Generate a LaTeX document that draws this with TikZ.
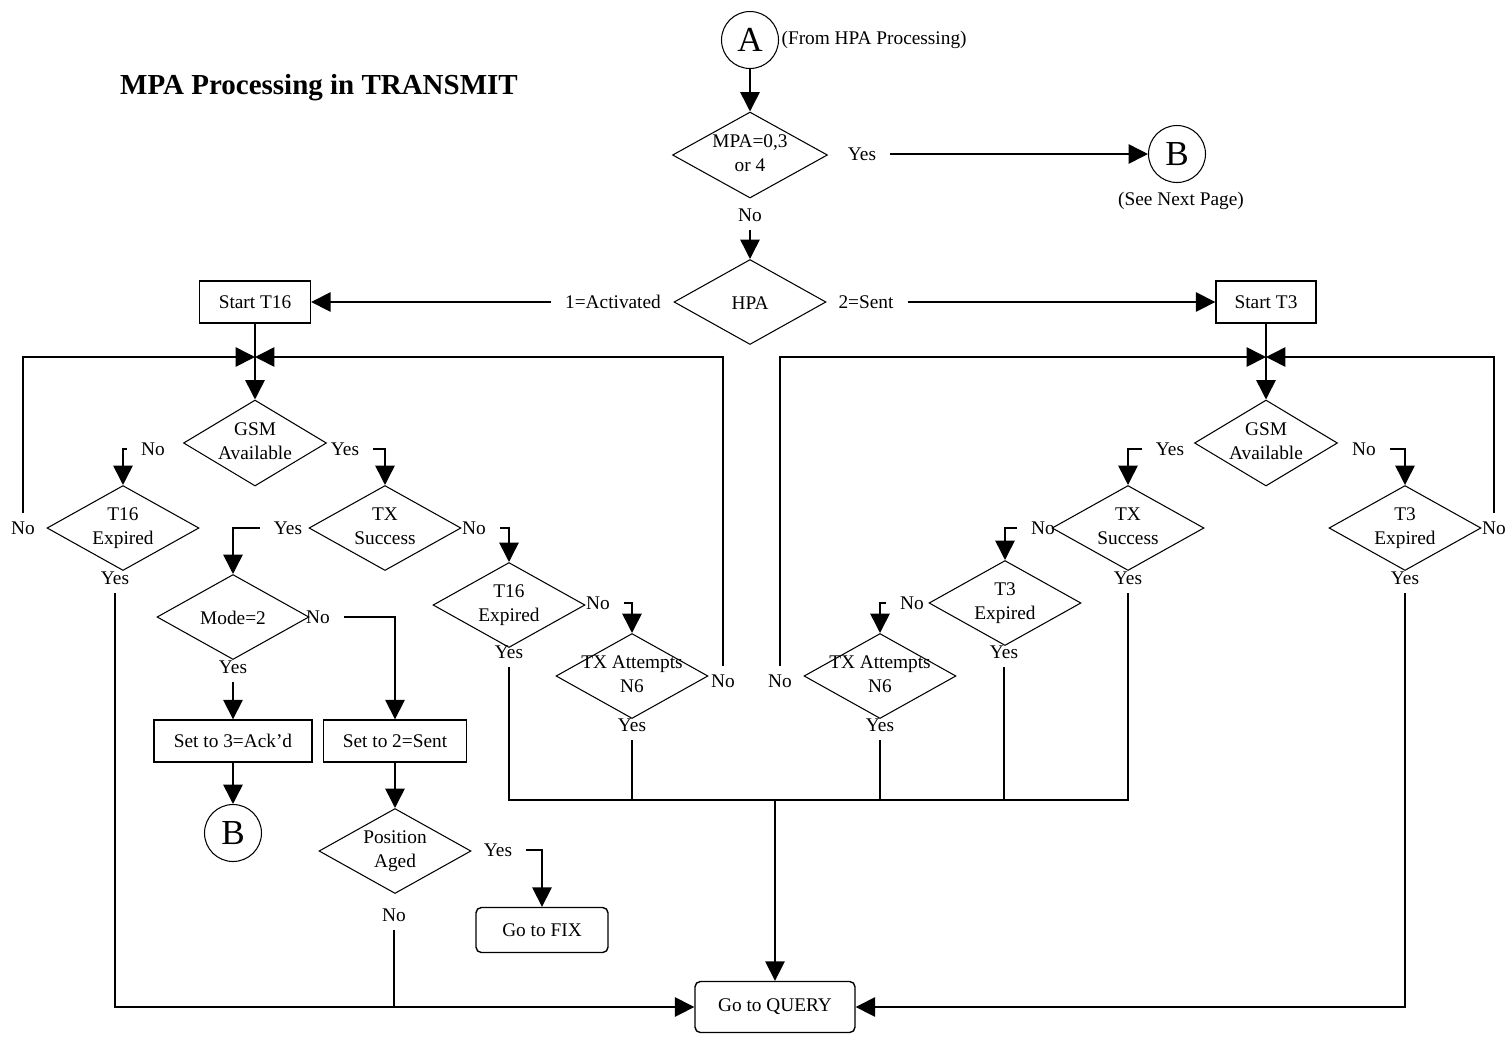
\documentclass[tikz,border=0pt]{standalone}
\usepackage{fontspec}
\setmainfont{Liberation Serif}
\usetikzlibrary{shapes.geometric,arrows.meta}

% diamond text that does not widen the diamond
\newcommand{\dq}[1]{\makebox[0pt]{\smash{\lower0.25em\hbox{\begin{tabular}{@{}c@{}}#1\end{tabular}}}}}

\begin{document}
\begin{tikzpicture}[x=0.02cm,y=-0.02cm,line width=0.9pt,
    every node/.style={font=\fontsize{11}{13.5}\selectfont},
    dec/.style={diamond,draw,line width=0.6pt,minimum width=3.04cm,minimum height=1.7cm,inner sep=0pt},
    gsm/.style={dec,minimum width=2.86cm,minimum height=1.72cm},
    proc/.style={rectangle,draw,line width=0.8pt,minimum height=0.84cm,inner sep=2pt},
    term/.style={proc,rounded corners=3pt,minimum width=2.64cm,minimum height=0.9cm},
    conn/.style={circle,draw,line width=0.6pt,minimum size=1.14cm,inner sep=0pt,font=\fontsize{20}{22}\selectfont},
    lbl/.style={inner sep=0pt,outer xsep=8pt,outer ysep=5pt},
    arr/.style={-{Triangle[length=11pt,width=11pt]}}]
    \path[fill=white,use as bounding box] (0,0) rectangle (1505,1036);

    \node[font=\bfseries\fontsize{16.5}{19}\selectfont] (title) at (319,88) {MPA Processing in TRANSMIT};

    \node[conn] (A) at (750,40) {A};
    \node[anchor=west,inner sep=1pt,font=\fontsize{11}{13}\selectfont] (from) at (A.east) {(From HPA Processing)};
    \node[dec,minimum width=3.1cm,minimum height=1.72cm] (mpa) at (750,155) {\dq{MPA=0,3\\or 4}};
    \node[lbl] (mpay) at (862,154) {Yes};
    \node[lbl] (mpan) at (750,215) {No};
    \node[conn] (B) at (1177,154) {B};
    \node[font=\fontsize{11}{13}\selectfont] (next) at (1181,201) {(See Next Page)};

    \node[dec] (hpa) at (750,302) {\dq{\raisebox{-1.7pt}{HPA}}};
    \node[lbl] (hact) at (613,302) {1=Activated};
    \node[lbl] (hsent) at (866,302) {2=Sent};
    \node[proc,minimum width=2.22cm] (t16) at (255,302) {Start T16};
    \node[proc,minimum width=2.0cm] (t3) at (1266,302) {Start T3};

    \coordinate (jl) at (255,357);
    \coordinate (jr) at (1266,357);
    \coordinate (bus) at (775,800);

    \draw[arr] (A) -- (mpa);
    \draw[arr] (mpay.east) -- (B);
    \draw[arr] (mpan.south) -- (hpa);
    \draw[arr] (hact.west) -- (t16);
    \draw[arr] (hsent.east) -- (t3);

    % T16 side
    \node[gsm] (gsml) at (255,443) {\dq{GSM\\Available}};
    \node[lbl] (gsmln) at (153,449) {No};
    \node[lbl] (gsmly) at (345,449) {Yes};
    \node[dec] (expl) at (123,528) {\dq{T16\\Expired}};
    \node[lbl] (explno) at (23,528) {No};
    \node[lbl] (explyes) at (115,578) {Yes};
    \node[dec] (txsl) at (385,528) {\dq{TX\\Success}};
    \node[lbl] (txslyes) at (288,528) {Yes};
    \node[lbl] (txslno) at (474,528) {No};
    \node[dec] (expm) at (509,605) {\dq{T16\\Expired}};
    \node[lbl] (expmno) at (598,603) {No};
    \node[lbl] (expmyes) at (509,652) {Yes};
    \node[dec] (txal) at (632,676) {\dq{TX Attempts\\N6}};
    \node[lbl] (txalno) at (723,681) {No};
    \node[lbl] (txalyes) at (632,725) {Yes};

    \draw (t16) -- (jl);
    \draw[arr] (jl) -- (gsml);
    \draw[arr] (explno.north) |- (jl);
    \draw[arr] (txalno.north) |- (jl);
    \draw[arr] (gsmln.west) -| (expl.north);
    \draw[arr] (gsmly.east) -| (txsl.north);
    \draw[arr] (txslno.east) -| (expm.north);
    \draw[arr] (expmno.east) -| (txal.north);
    \draw (expmyes.south) |- (bus);
    \draw (txalyes.south) |- (bus);

    \node[dec] (mode) at (233,617) {\dq{\raisebox{-1.7pt}{Mode=2}}};
    \node[lbl] (modeno) at (318,617) {No};
    \node[lbl] (modeyes) at (233,667) {Yes};
    \node[proc,minimum width=3.16cm] (ack) at (233,741) {Set to 3=Ack’d};
    \node[proc,minimum width=2.86cm] (sent) at (395,741) {Set to 2=Sent};
    \node[conn] (B2) at (233,833) {B};
    \node[dec] (aged) at (395,851) {\dq{Position\\Aged}};
    \node[lbl] (agedyes) at (498,850) {Yes};
    \node[lbl] (agedno) at (394,915) {No};
    \node[term] (fix) at (542,930) {Go to FIX};
    \node[term,minimum width=3.2cm,minimum height=1.02cm] (query) at (775,1007) {Go to QUERY};

    \draw[arr] (txslyes.west) -| (mode.north);
    \draw[arr] (modeyes.south) -- (ack);
    \draw[arr] (modeno.east) -| (sent.north);
    \draw[arr] (ack) -- (B2);
    \draw[arr] (sent) -- (aged);
    \draw[arr] (agedyes.east) -| (fix.north);
    \draw (agedno.south) -- (agedno.south |- query.west);
    \draw[arr] (explyes.south) |- (query.west);
    \draw[arr] (bus) -- (query);

    % T3 side
    \node[gsm] (gsmr) at (1266,443) {\dq{GSM\\Available}};
    \node[lbl] (gsmryes) at (1170,449) {Yes};
    \node[lbl] (gsmrno) at (1364,449) {No};
    \node[dec] (txsr) at (1128,528) {\dq{TX\\Success}};
    \node[lbl] (txsrno) at (1043,528) {No};
    \node[lbl] (txsryes) at (1128,578) {Yes};
    \node[dec] (expr) at (1405,528) {\dq{T3\\Expired}};
    \node[lbl] (exprno) at (1494,528) {No};
    \node[lbl] (expryes) at (1405,578) {Yes};
    \node[dec] (expm3) at (1005,603) {\dq{T3\\Expired}};
    \node[lbl] (expm3no) at (912,603) {No};
    \node[lbl] (expm3yes) at (1004,652) {Yes};
    \node[dec] (txar) at (880,676) {\dq{TX Attempts\\N6}};
    \node[lbl] (txarno) at (780,681) {No};
    \node[lbl] (txaryes) at (880,725) {Yes};

    \draw (t3) -- (jr);
    \draw[arr] (jr) -- (gsmr);
    \draw[arr] (exprno.north) |- (jr);
    \draw[arr] (txarno.north) |- (jr);
    \draw[arr] (gsmryes.west) -| (txsr.north);
    \draw[arr] (gsmrno.east) -| (expr.north);
    \draw[arr] (txsrno.west) -| (expm3.north);
    \draw[arr] (expm3no.west) -| (txar.north);
    \draw (txsryes.south) |- (bus);
    \draw (expm3yes.south) |- (bus);
    \draw (txaryes.south) |- (bus);
    \draw[arr] (expryes.south) |- (query.east);
\end{tikzpicture}
\end{document}
